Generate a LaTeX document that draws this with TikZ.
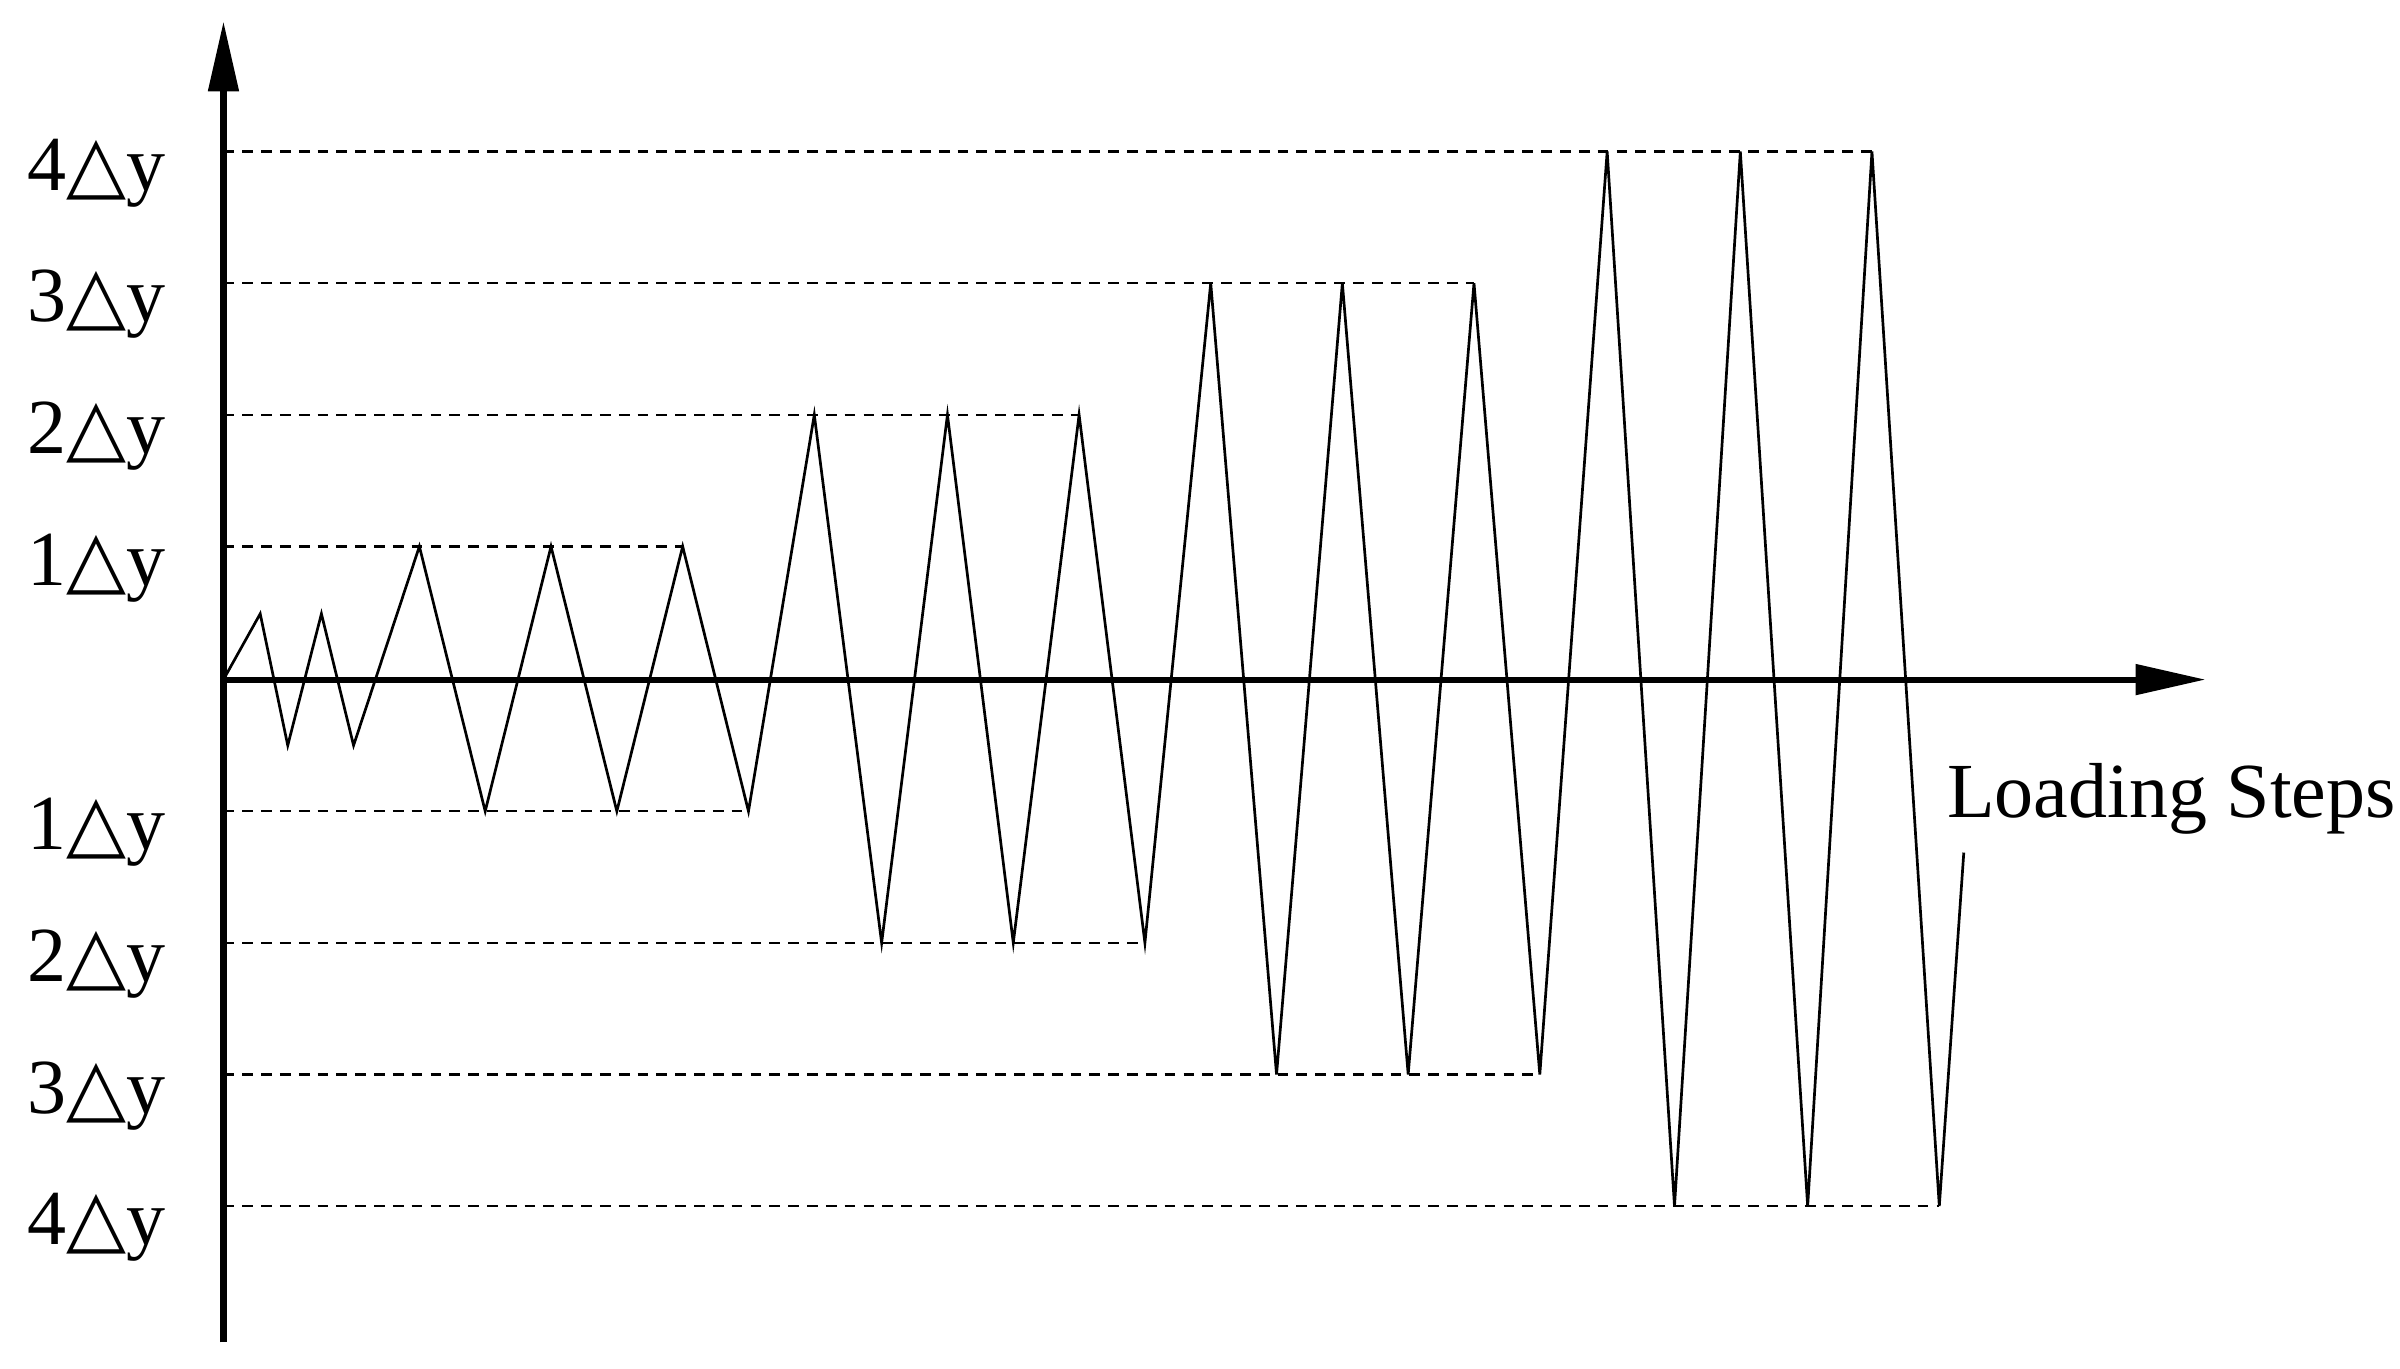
\documentclass[tikz,border=0pt]{standalone}
\usepackage{fontspec}
\setmainfont{Liberation Serif}
\newfontfamily\symfont{DejaVu Sans}
\usetikzlibrary{arrows.meta}
\begin{document}
\begin{tikzpicture}[x=0.02cm,y=-0.02cm,
  axisline/.style={line width=2.3pt,-{Triangle[length=26pt,width=11pt]}},
  wave/.style={line width=1pt,line join=miter},
  guide/.style={line width=0.9pt,dash pattern=on 4pt off 3pt},
  lab/.style={font=\fontsize{29}{30}\selectfont,anchor=center}]
\useasboundingbox (0,0) rectangle (1568,894.4);
\foreach \y/\e in {357/446,530/489,271/705,616/748,185/963,702/1006,99/1223,788/1267}
  \draw[guide] (146,\y) -- (\e,\y);
\draw[wave] (146,444)--(170,401)--(188,487)--(210,401)--(231,487)--(274,357)--(317,530)--(360,357)--(403,530)--(446,357)--(489,530)--(532,271)--(576,616)--(619,271)--(662,616)--(705,271)--(748,616)--(791,185)--(834,702)--(877,185)--(920,702)--(963,185)--(1006,702)--(1050,99)--(1094,788)--(1137,99)--(1181,788)--(1223,99)--(1267,788)--(1283,557);
\draw[axisline] (146,877) -- (146,14);
\draw[axisline] (144,444) -- (1441,444);
\foreach \y/\t in {99/4,185/3,271/2,357/1,530/1,616/2,702/3,788/4}
  \node[lab] at (63,\y+14) {\t{\symfont\fontsize{29}{30}\selectfont △}y};
\node[lab,anchor=west] at (1266,522) {Loading Steps};
\end{tikzpicture}
\end{document}
